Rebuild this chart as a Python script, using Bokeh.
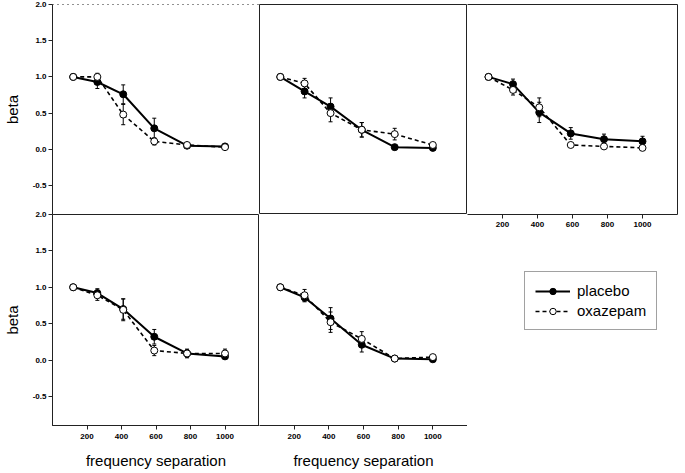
from bokeh.plotting import figure
from bokeh.models import (ColumnDataSource, Whisker, TeeHead, LinearAxis, FixedTicker,
                          PrintfTickFormatter, Range1d, Legend, LegendItem)
from bokeh.layouts import row, column
from bokeh.embed import file_html
from bokeh.resources import INLINE

# ---------------- data ----------------
freq = [120, 260, 410, 590, 780, 1000]
x_ticks = [200, 400, 600, 800, 1000]
y_ticks = [-0.5, 0.0, 0.5, 1.0, 1.5, 2.0]

placebo_1 = [1.00, 0.93, 0.76, 0.29, 0.05, 0.04]
placebo_err_1 = [0.00, 0.09, 0.13, 0.14, 0.02, 0.02]
oxazepam_1 = [1.00, 1.00, 0.48, 0.11, 0.06, 0.03]
oxazepam_err_1 = [0.00, 0.05, 0.14, 0.05, 0.02, 0.02]

placebo_2 = [1.00, 0.80, 0.59, 0.27, 0.03, 0.02]
placebo_err_2 = [0.00, 0.09, 0.12, 0.10, 0.01, 0.01]
oxazepam_2 = [1.00, 0.91, 0.50, 0.27, 0.21, 0.06]
oxazepam_err_2 = [0.00, 0.07, 0.12, 0.10, 0.08, 0.03]

placebo_3 = [1.00, 0.90, 0.51, 0.22, 0.14, 0.11]
placebo_err_3 = [0.00, 0.07, 0.14, 0.08, 0.07, 0.07]
oxazepam_3 = [1.00, 0.82, 0.58, 0.06, 0.04, 0.02]
oxazepam_err_3 = [0.00, 0.07, 0.13, 0.02, 0.02, 0.02]

placebo_4 = [1.00, 0.92, 0.70, 0.32, 0.09, 0.05]
placebo_err_4 = [0.00, 0.06, 0.14, 0.10, 0.05, 0.02]
oxazepam_4 = [1.00, 0.89, 0.69, 0.13, 0.09, 0.09]
oxazepam_err_4 = [0.00, 0.07, 0.15, 0.07, 0.06, 0.06]

placebo_5 = [1.00, 0.86, 0.57, 0.21, 0.02, 0.01]
placebo_err_5 = [0.00, 0.06, 0.15, 0.10, 0.01, 0.01]
oxazepam_5 = [1.00, 0.89, 0.52, 0.29, 0.02, 0.04]
oxazepam_err_5 = [0.00, 0.08, 0.14, 0.10, 0.01, 0.02]

series_names = ["placebo", "oxazepam"]
x_title = "frequency separation"
y_title = "beta"

FONT = "Liberation Sans"
X_RANGE = (0, 1200)
Y_RANGE = (-0.9, 2.0)
EDGE = "#222222"


def add_axis(p, place, ticks, tick_out=4, dash="solid", fmt="%.1f", title=None,
             standoff=2, title_standoff=10):
    ax = LinearAxis(ticker=FixedTicker(ticks=ticks), minor_tick_line_color=None,
                    major_tick_in=0, major_tick_out=tick_out,
                    major_tick_line_color=EDGE, major_tick_line_width=1,
                    axis_line_color=EDGE, axis_line_width=1,
                    axis_line_dash=dash, formatter=PrintfTickFormatter(format=fmt))
    ax.major_label_text_font = FONT
    ax.major_label_text_font_style = "bold"
    ax.major_label_text_font_size = "8px"
    ax.major_label_text_color = "black"
    ax.major_label_standoff = standoff
    if title:
        ax.axis_label = title
        ax.axis_label_text_font = FONT
        ax.axis_label_text_font_style = "normal"
        ax.axis_label_text_font_size = "15px"
        ax.axis_label_text_color = "black"
        ax.axis_label_standoff = title_standoff
    p.add_layout(ax, place)
    return ax


def make_panel(pl, pl_err, ox, ox_err, width, height, left=0, right=0, top=0, bottom=0):
    p = figure(width=width, height=height, x_range=Range1d(*X_RANGE), y_range=Range1d(*Y_RANGE),
               x_axis_location=None, y_axis_location=None, toolbar_location=None,
               output_backend="svg", min_border_left=left, min_border_right=right,
               min_border_top=top, min_border_bottom=bottom)
    p.grid.visible = False
    p.outline_line_color = EDGE
    p.outline_line_width = 1
    p.background_fill_color = "white"

    for vals, errs in ((pl, pl_err), (ox, ox_err)):
        xs = [f for f, e in zip(freq, errs) if e > 0]
        up = [v + e for v, e in zip(vals, errs) if e > 0]
        lo = [v - e for v, e in zip(vals, errs) if e > 0]
        src = ColumnDataSource(dict(x=xs, upper=up, lower=lo))
        w = Whisker(source=src, base="x", upper="upper", lower="lower",
                    line_color="black", line_width=1,
                    upper_head=TeeHead(size=4, line_color="black", line_width=1),
                    lower_head=TeeHead(size=4, line_color="black", line_width=1))
        p.add_layout(w)

    src = ColumnDataSource(dict(x=freq, pl=pl, ox=ox))
    p.line("x", "ox", source=src, line_color="black", line_width=1.6, line_dash="4 3")
    p.line("x", "pl", source=src, line_color="black", line_width=2)
    p.scatter("x", "pl", source=src, marker="circle", size=7, fill_color="black", line_color="black")
    p.scatter("x", "ox", source=src, marker="circle", size=7, fill_color="white", line_color="black",
              line_width=1)
    return p


# ---------------- layout geometry ----------------
L = 49          # left border for first column
FW1, FW2, FW3 = 210, 208, 210
R3 = 8
TOP = 4
FH1 = 210
FH2 = 213
BOT = 44
OVL = 5         # overlap of lower row into upper row border
B3 = 16

# top row
p1 = make_panel(placebo_1, placebo_err_1, oxazepam_1, oxazepam_err_1,
                L + FW1, TOP + FH1, left=L, top=TOP)
p1.outline_line_color = None
add_axis(p1, "left", y_ticks, tick_out=4, title=y_title, title_standoff=9)
add_axis(p1, "above", [], tick_out=0, dash="1 4")

p2 = make_panel(placebo_2, placebo_err_2, oxazepam_2, oxazepam_err_2,
                FW2, TOP + FH1, top=TOP)

p3 = make_panel(placebo_3, placebo_err_3, oxazepam_3, oxazepam_err_3,
                FW3 + R3, TOP + FH1 + B3, right=R3, top=TOP, bottom=B3)
p3.outline_line_color = None
add_axis(p3, "below", x_ticks, tick_out=4, fmt="%d", standoff=3)
add_axis(p3, "above", [], tick_out=0)
add_axis(p3, "right", [], tick_out=0)

# bottom row
p4 = make_panel(placebo_4, placebo_err_4, oxazepam_4, oxazepam_err_4,
                L + FW1, OVL + FH2 + BOT, left=L, top=OVL, bottom=BOT)
p4.border_fill_color = None
p4.margin = (-OVL, 0, 0, 0)
add_axis(p4, "left", y_ticks, tick_out=4, title=y_title, title_standoff=9)
add_axis(p4, "below", x_ticks, tick_out=4, fmt="%d", title=x_title, standoff=4, title_standoff=10)

p5 = make_panel(placebo_5, placebo_err_5, oxazepam_5, oxazepam_err_5,
                FW2, OVL + FH2 + BOT, top=OVL, bottom=BOT)
p5.border_fill_color = None
p5.margin = (-OVL, 0, 0, 0)
p5.outline_line_color = None
add_axis(p5, "below", x_ticks, tick_out=4, fmt="%d", title=x_title, standoff=4, title_standoff=10)
add_axis(p5, "right", [], tick_out=0)

# legend cell
LEG_H = TOP + FH1 + FH2 + BOT - (TOP + FH1 + B3)
pl_leg = figure(width=FW3 + R3, height=LEG_H, x_range=Range1d(*X_RANGE), y_range=Range1d(*Y_RANGE),
                x_axis_location=None, y_axis_location=None, toolbar_location=None,
                output_backend="svg", min_border=0)
pl_leg.grid.visible = False
pl_leg.outline_line_color = None
leg_src = ColumnDataSource(dict(x=freq, pl=placebo_3, ox=oxazepam_3))
r1l = pl_leg.line("x", "pl", source=leg_src, line_color="black", line_width=2)
r1m = pl_leg.scatter("x", "pl", source=leg_src, marker="circle", size=7, fill_color="black",
                     line_color="black")
r2l = pl_leg.line("x", "ox", source=leg_src, line_color="black", line_width=1.6, line_dash="4 3")
r2m = pl_leg.scatter("x", "ox", source=leg_src, marker="circle", size=7, fill_color="white",
                     line_color="black")
for r in (r1l, r1m, r2l, r2m):
    r.visible = False
legend = Legend(items=[LegendItem(label=series_names[0], renderers=[r1l, r1m]),
                       LegendItem(label=series_names[1], renderers=[r2l, r2m])],
                location=(57, 141), orientation="vertical",
                label_text_font=FONT, label_text_font_size="15px", label_text_color="black",
                glyph_width=35, glyph_height=16, label_height=16, label_standoff=7,
                spacing=3, padding=10, margin=0,
                border_line_color="#444444", border_line_width=1.5,
                background_fill_color="white", background_fill_alpha=1.0)
pl_leg.add_layout(legend)

layout = row(column(p1, p4), column(p2, p5), column(p3, pl_leg))

open("out.html", "w").write(file_html(layout, INLINE))
